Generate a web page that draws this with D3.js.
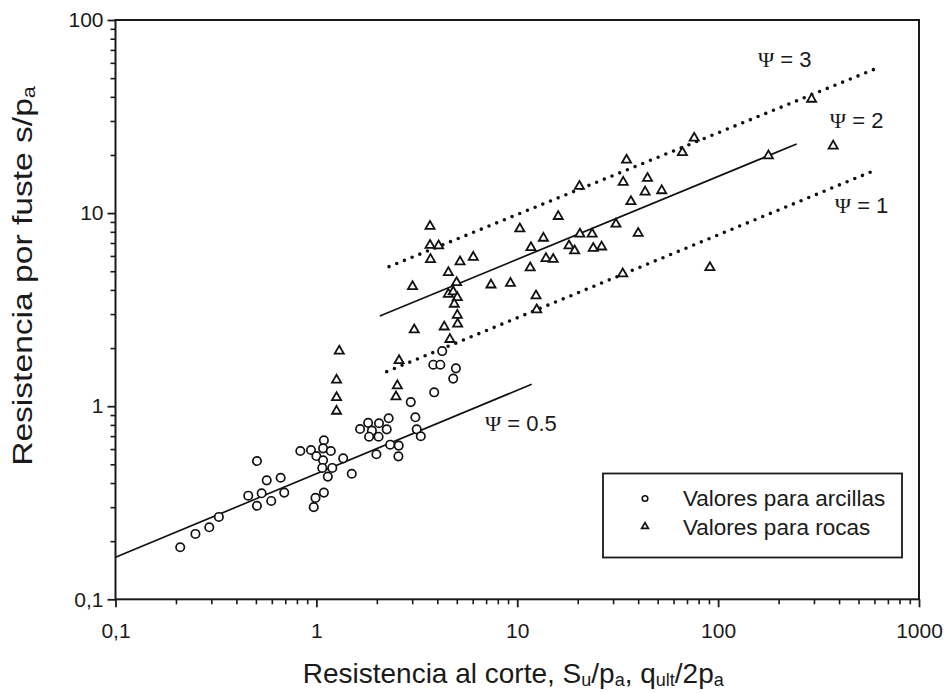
<!DOCTYPE html>
<html>
<head>
<meta charset="utf-8">
<script src="https://cdn.jsdelivr.net/npm/d3@7"></script>
<style>
  html, body { margin: 0; padding: 0; background: #fff; }
  svg { display: block; }
  text { font-family: "Liberation Sans", Arial, sans-serif; fill: #1a1a1a; }
</style>
</head>
<body>
<svg id="chart" width="947" height="693"></svg>
<script>
// Clay measurements: [Su/pa, s/pa]
const arcillas = [
  [0.21, 0.186], [0.25, 0.218], [0.293, 0.236], [0.327, 0.267], [0.506, 0.52],
  [0.458, 0.344], [0.506, 0.305], [0.534, 0.354], [0.566, 0.413], [0.596, 0.323],
  [0.664, 0.426], [0.692, 0.357], [0.832, 0.586], [0.94, 0.593], [1.0, 0.552],
  [1.09, 0.666], [1.08, 0.605], [1.18, 0.586], [1.08, 0.525], [1.07, 0.479],
  [1.20, 0.479], [1.14, 0.432], [1.36, 0.537], [1.50, 0.447], [1.09, 0.357],
  [0.99, 0.335], [0.97, 0.30], [1.65, 0.762], [1.81, 0.82], [1.89, 0.747],
  [2.05, 0.816], [2.29, 0.866], [2.24, 0.759], [1.83, 0.695], [2.04, 0.695],
  [1.99, 0.564], [2.33, 0.632], [2.57, 0.625], [2.56, 0.55], [2.95, 1.05],
  [3.11, 0.876], [3.16, 0.759], [3.31, 0.699], [3.86, 1.18], [4.23, 1.93],
  [3.82, 1.64], [4.14, 1.64], [4.95, 1.57], [4.80, 1.39]
];

// Rock measurements: [qult/2pa, s/pa]
const rocas = [
  [1.30, 1.95], [1.26, 1.38], [1.26, 1.12], [1.26, 0.952], [2.58, 1.74],
  [2.53, 1.29], [2.49, 1.13], [3.01, 4.21], [3.07, 2.51], [3.68, 8.63],
  [3.68, 6.88], [4.06, 6.84], [3.70, 5.81], [4.54, 4.97], [4.99, 4.41],
  [4.54, 3.84], [4.80, 3.95], [5.03, 3.69], [4.86, 3.41], [5.03, 2.99],
  [5.05, 2.69], [4.33, 2.60], [4.62, 2.24], [5.19, 5.65], [6.04, 5.97],
  [7.40, 4.29], [9.25, 4.37], [10.3, 8.37], [11.7, 6.70], [11.6, 5.26],
  [13.5, 7.49], [13.9, 5.88], [15.1, 5.82], [12.4, 3.77], [12.5, 3.19],
  [16.0, 9.71], [18.1, 6.84], [19.3, 6.44], [20.4, 13.9], [20.5, 7.87],
  [23.6, 7.87], [23.9, 6.64], [26.3, 6.75], [31.0, 8.86], [33.7, 14.6],
  [33.5, 4.90], [35.0, 19.0], [36.8, 11.6], [40.0, 7.94], [43.3, 13.0],
  [44.5, 15.3], [52.4, 13.2], [66.4, 20.8], [76.0, 24.7], [91.0, 5.28],
  [178, 20.0], [292, 39.3], [374, 22.5]
];

// Design lines s/pa = Ψ·(...)^n, as end points
const lineaPsi05 = [[0.1, 0.165], [11.8, 1.30]];
const lineaPsi1  = [[2.24, 1.51], [581, 16.4]];
const lineaPsi2  = [[2.07, 2.93], [246, 22.8]];
const lineaPsi3  = [[2.30, 5.28], [615, 56.2]];

// Axis ticks
const decadasX = [0.1, 1, 10, 100, 1000];
const etiquetasX = ["0,1", "1", "10", "100", "1000"];
const decadasY = [0.1, 1, 10, 100];
const etiquetasY = ["0,1", "1", "10", "100"];

const svg = d3.select("#chart");
const mLeft = 115.5, mRight = 919, mTop = 20, mBottom = 599.3;

const x = d3.scaleLog().domain([0.1, 1000]).range([mLeft, mRight]);
const y = d3.scaleLog().domain([0.1, 100]).range([mBottom, mTop]);

function minorTicks(domain) {
  const out = [];
  for (let e = Math.log10(domain[0]); e < Math.log10(domain[1]); e++) {
    for (let k = 2; k <= 9; k++) out.push(+(k * Math.pow(10, e)).toPrecision(3));
  }
  return out;
}

const axisColor = "#1a1a1a";
const fontStack = "'Liberation Sans', Arial, sans-serif";

// Minor ticks
svg.append("g")
  .attr("transform", `translate(0,${mBottom})`)
  .call(d3.axisBottom(x).tickValues(minorTicks([0.1, 1000])).tickSize(5).tickFormat(""))
  .call(g => g.select(".domain").remove())
  .call(g => g.selectAll("line").attr("stroke", axisColor).attr("stroke-width", 1.6));
svg.append("g")
  .attr("transform", `translate(${mLeft},0)`)
  .call(d3.axisLeft(y).tickValues(minorTicks([0.1, 100])).tickSize(5).tickFormat(""))
  .call(g => g.select(".domain").remove())
  .call(g => g.selectAll("line").attr("stroke", axisColor).attr("stroke-width", 1.6));

// Major ticks with labels
svg.append("g")
  .attr("transform", `translate(0,${mBottom})`)
  .call(d3.axisBottom(x).tickValues(decadasX).tickSize(8).tickPadding(16)
    .tickFormat((d, i) => etiquetasX[i]))
  .call(g => g.select(".domain").remove())
  .call(g => g.selectAll("line").attr("stroke", axisColor).attr("stroke-width", 1.8))
  .call(g => g.selectAll("text").attr("font-size", 21).attr("fill", "#1a1a1a")
    .style("font-family", fontStack));
svg.append("g")
  .attr("transform", `translate(${mLeft},0)`)
  .call(d3.axisLeft(y).tickValues(decadasY).tickSize(8).tickPadding(4)
    .tickFormat((d, i) => etiquetasY[i]))
  .call(g => g.select(".domain").remove())
  .call(g => g.selectAll("line").attr("stroke", axisColor).attr("stroke-width", 1.8))
  .call(g => g.selectAll("text").attr("font-size", 21).attr("fill", "#1a1a1a")
    .style("font-family", fontStack));

// Frame
svg.append("rect")
  .attr("x", mLeft).attr("y", mTop)
  .attr("width", mRight - mLeft).attr("height", mBottom - mTop)
  .attr("fill", "none").attr("stroke", axisColor).attr("stroke-width", 2);

// Design lines
const line = d3.line().x(d => x(d[0])).y(d => y(d[1]));
[lineaPsi05, lineaPsi2].forEach(pts => {
  svg.append("path").attr("d", line(pts))
    .attr("fill", "none").attr("stroke", "#111").attr("stroke-width", 1.7);
});
[lineaPsi1, lineaPsi3].forEach(pts => {
  svg.append("path").attr("d", line(pts))
    .attr("fill", "none").attr("stroke", "#111").attr("stroke-width", 3.6)
    .attr("stroke-linecap", "round").attr("stroke-dasharray", "0,8.3");
});

// Data markers
const tri = d3.symbol(d3.symbolTriangle).size(36);
svg.append("g").selectAll("circle").data(arcillas).join("circle")
  .attr("cx", d => x(d[0])).attr("cy", d => y(d[1])).attr("r", 4.2)
  .attr("fill", "#fff").attr("stroke", "#111").attr("stroke-width", 1.7);
svg.append("g").selectAll("path").data(rocas).join("path")
  .attr("d", tri)
  .attr("transform", d => `translate(${x(d[0])},${y(d[1]) + 0.8})`)
  .attr("fill", "#fff").attr("stroke", "#111").attr("stroke-width", 1.8);

// Ψ annotations (anchored in data coordinates)
const psiLabels = [
  { v: "3", at: [158, 57.1] },
  { v: "2", at: [360, 27.6] },
  { v: "1", at: [381, 10.0] },
  { v: "0.5", at: [6.9, 0.744] }
];
psiLabels.forEach(p => {
  const t = svg.append("text")
    .attr("x", x(p.at[0])).attr("y", y(p.at[1]))
    .attr("font-size", 22);
  t.append("tspan").text("Ψ")
    .style("font-family", "'Liberation Serif', 'Times New Roman', serif");
  t.append("tspan").text(" = " + p.v);
});

// Legend
const lg = svg.append("g");
lg.append("rect").attr("x", 603).attr("y", 473.5).attr("width", 299).attr("height", 84)
  .attr("fill", "#fff").attr("stroke", axisColor).attr("stroke-width", 1.8);
lg.append("circle").attr("cx", 645).attr("cy", 498.5).attr("r", 2.8)
  .attr("fill", "#fff").attr("stroke", "#111").attr("stroke-width", 1.6);
lg.append("path").attr("d", d3.symbol(d3.symbolTriangle).size(20))
  .attr("transform", "translate(645,526.5)")
  .attr("fill", "#fff").attr("stroke", "#111").attr("stroke-width", 1.7);
lg.append("text").attr("x", 683).attr("y", 506).attr("font-size", 22.5)
  .text("Valores para arcillas");
lg.append("text").attr("x", 683).attr("y", 534.5).attr("font-size", 22.5)
  .text("Valores para rocas");

// Axis titles
const xt = svg.append("text")
  .attr("x", (mLeft + mRight) / 2 - 4).attr("y", 683)
  .attr("text-anchor", "middle").attr("font-size", 28);
xt.append("tspan").text("Resistencia al corte, S");
xt.append("tspan").text("u").attr("font-size", 18).attr("dy", 3);
xt.append("tspan").text("/p").attr("dy", -3);
xt.append("tspan").text("a").attr("font-size", 18).attr("dy", 3);
xt.append("tspan").text(", q").attr("dy", -3);
xt.append("tspan").text("ult").attr("font-size", 18).attr("dy", 3);
xt.append("tspan").text("/2p").attr("dy", -3);
xt.append("tspan").text("a").attr("font-size", 18).attr("dy", 3);

// Y title is set a little wider along its reading direction
const yt = svg.append("g").attr("transform", "translate(32,276) rotate(-90) scale(1.2,1)")
  .append("text")
  .attr("text-anchor", "middle").attr("font-size", 28);
yt.append("tspan").text("Resistencia por fuste s/p");
yt.append("tspan").text("a").attr("font-size", 18).attr("dy", 3);
</script>
</body>
</html>
